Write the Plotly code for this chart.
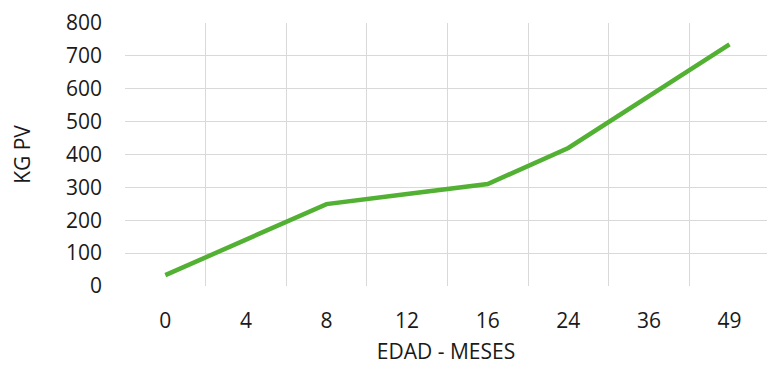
import plotly.graph_objects as go

edad_meses = ["0", "4", "8", "12", "16", "24", "36", "49"]
kg_pv = [33, 141, 249, 280, 310, 420, 577, 735]
y_ticks = [0, 100, 200, 300, 400, 500, 600, 700, 800]

font_family = "Open Sans, Noto Sans, sans-serif"
text_color = "#1a1a1a"
grid_color = "#d9d9d9"

fig = go.Figure(
    go.Scatter(
        x=edad_meses,
        y=kg_pv,
        mode="lines",
        line=dict(color="#52b033", width=4.5),
        hoverinfo="x+y",
    )
)

fig.update_layout(
    width=767,
    height=365,
    margin=dict(l=125, r=0, t=23, b=79),
    paper_bgcolor="white",
    plot_bgcolor="white",
    showlegend=False,
    font=dict(family=font_family, size=21, color=text_color),
    xaxis=dict(
        type="category",
        range=[-0.5, 7.465],
        tickson="boundaries",
        showgrid=True,
        gridcolor=grid_color,
        gridwidth=1,
        ticks="",
        ticklabelstandoff=20,
        showline=False,
        zeroline=False,
        title=dict(text="EDAD - MESES", standoff=13, font=dict(size=21)),
    ),
    yaxis=dict(
        range=[0, 800],
        tickvals=y_ticks,
        showgrid=True,
        gridcolor=grid_color,
        gridwidth=1,
        ticks="",
        ticklabelstandoff=22,
        zeroline=False,
        showline=False,
        title=dict(text="KG PV", standoff=29, font=dict(size=21)),
    ),
)

fig.write_html(
    "out.html",
    config={"displayModeBar": False},
    post_script="document.body.style.margin='0';",
)
